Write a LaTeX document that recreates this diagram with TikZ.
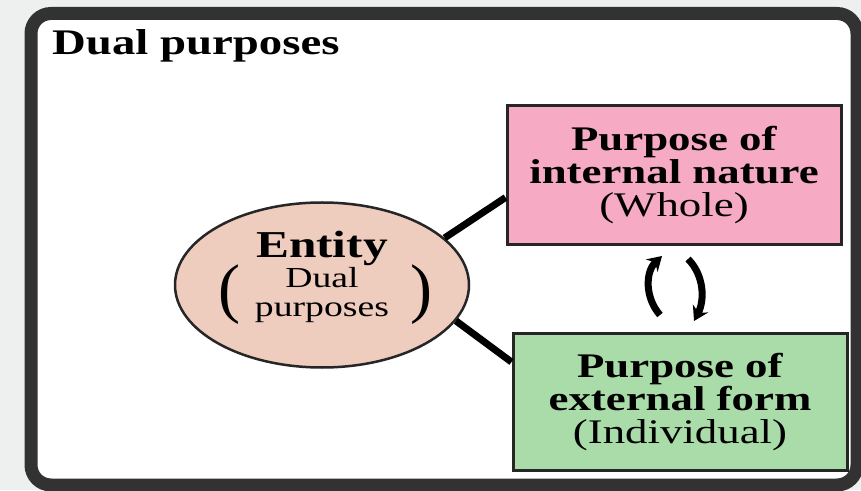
\documentclass[tikz,border=0pt]{standalone}
\usepackage{fontspec}
\setmainfont[FakeStretch=1.3]{Liberation Serif}
\newfontfamily\parenfont{Liberation Serif}
\usetikzlibrary{arrows.meta,shapes.geometric}
\definecolor{pagegray}{RGB}{238,240,240}
\definecolor{framegray}{RGB}{50,50,50}
\definecolor{wholepink}{RGB}{246,170,196}
\definecolor{partgreen}{RGB}{170,220,170}
\definecolor{entitytan}{RGB}{238,204,190}
\begin{document}
\begin{tikzpicture}[x=1pt, y=1pt,
    purposebox/.style={draw=black!85, line width=3pt, rectangle, minimum width=334pt, align=center,
        font=\fontsize{34.5}{33}\selectfont},
    link/.style={line width=7pt, black},
    swap/.style={line width=7pt, black, -{Stealth[length=14pt, width=17pt]}},
    bigparen/.style={inner sep=0pt, font=\parenfont\fontsize{66}{66}\selectfont}
]
        \fill[pagegray] (0,0) rectangle (861,490);
        \useasboundingbox (0,0) rectangle (861,490);
        \draw[framegray, line width=13pt, fill=white, rounded corners=20pt] (31,476.5) rectangle (857,5);

        \node[anchor=base west, inner sep=0pt, font=\fontsize{36}{36}\selectfont\bfseries] (title) at (52,435) {Dual purposes};

        \node[draw=black!85, line width=2.5pt, ellipse, fill=entitytan, minimum width=294pt, minimum height=165pt, inner sep=0pt,
            align=center, text depth=22pt, font=\fontsize{29}{29}\selectfont] (E) at (322,205)
            {{\fontsize{38}{38}\selectfont\bfseries Entity}\\[1pt] Dual\\ purposes};
        \node[bigparen] (lp) at (229,195) {(};
        \node[bigparen] (rp) at (421,195) {)};

        \node[purposebox, fill=wholepink, minimum height=139pt] (P) at (674,314.5) {\textbf{Purpose of}\\\textbf{internal nature}\\(Whole)};
        \node[purposebox, fill=partgreen, minimum height=136pt] (G) at (680,88) {\textbf{Purpose of}\\\textbf{external form}\\(Individual)};

        \draw[link] (E.21) -- ([yshift=-22pt]P.west);
        \draw[link] (E.-15) -- ([yshift=40pt]G.west);

        \draw[swap] (660,175) .. controls (645,192) and (645,218) .. (662,234);
        \draw[swap] (688,231) .. controls (704,215) and (705,190) .. (694,169);
    \end{tikzpicture}
\end{document}
